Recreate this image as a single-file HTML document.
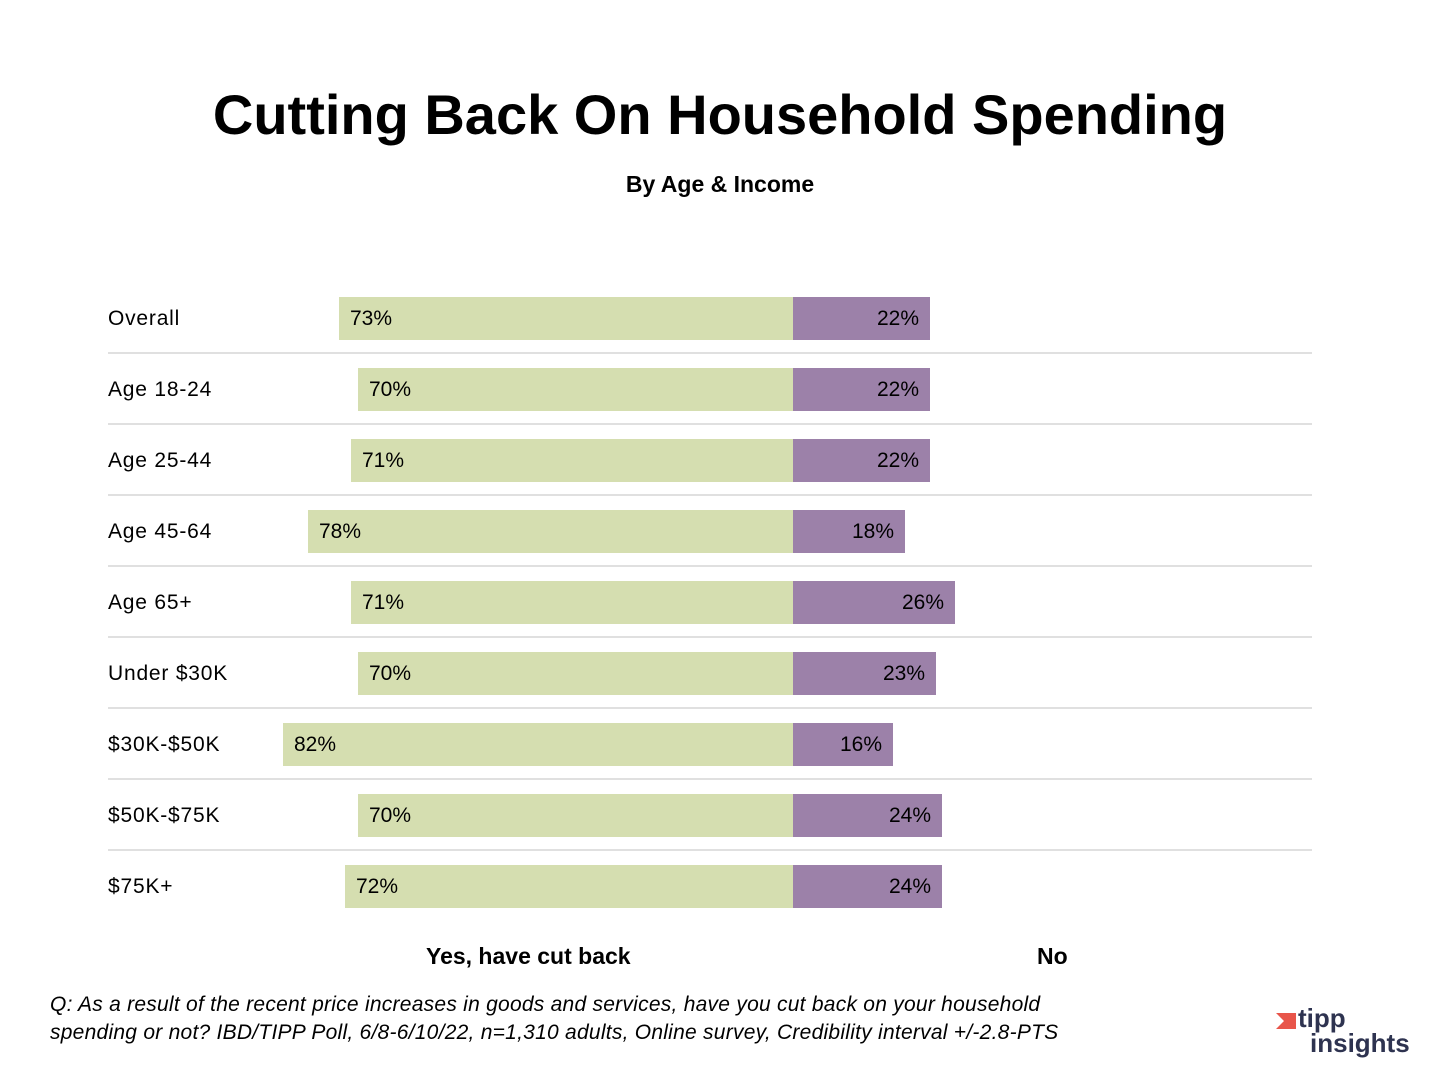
<!DOCTYPE html>
<html><head><meta charset="utf-8"><style>
body{margin:0;width:1440px;height:1080px;background:#fff;position:relative;font-family:"Liberation Sans","DejaVu Sans",sans-serif;color:#000;overflow:hidden}
.a{position:absolute;white-space:nowrap}
.y{position:absolute;height:43px;background:#d5deb0}
.n{position:absolute;height:43px;background:#9c81a9}
.lab{position:absolute;left:108px;font-size:21px;letter-spacing:0.8px;line-height:43px}
.v{font-size:21px;line-height:43px;position:absolute}
.sep{position:absolute;left:108px;width:1204px;height:2px;background:#e0e0e0}
</style></head><body>
<div class="a" style="left:0;width:1440px;text-align:center;top:82px;font-size:56px;font-weight:bold;letter-spacing:0px">Cutting Back On Household Spending</div>
<div class="a" style="left:0;width:1440px;text-align:center;top:171px;font-size:23px;font-weight:bold">By Age &amp; Income</div>
<div id="rows"></div>
<div class="a" style="left:426px;top:943px;font-size:23px;font-weight:bold">Yes, have cut back</div>
<div class="a" style="left:1037px;top:943px;font-size:23px;font-weight:bold">No</div>
<div class="a" style="left:50px;top:991px;font-size:21px;font-style:italic;line-height:28px;letter-spacing:0.25px">Q: As a result of the recent price increases in goods and services, have you cut back on your household<br>spending or not? IBD/TIPP Poll, 6/8-6/10/22, n=1,310 adults, Online survey, Credibility interval +/-2.8-PTS</div>
<div class="a" style="left:1276px;top:1013px;width:20px;height:16px;background:#e8554a;clip-path:polygon(0 0,100% 0,100% 100%,0 100%,40% 50%)"></div>
<div class="a" style="left:1298px;top:1005px;font-size:26px;font-weight:bold;color:#2e3350;line-height:26px">tipp</div>
<div class="a" style="left:1310px;top:1030px;font-size:26px;font-weight:bold;color:#2e3350;line-height:26px">insights</div>
<script>
var d=[["Overall",73,22],["Age 18-24",70,22],["Age 25-44",71,22],["Age 45-64",78,18],["Age 65+",71,26],["Under $30K",70,23],["$30K-$50K",82,16],["$50K-$75K",70,24],["$75K+",72,24]];
var h="",s=6.22,c=793;
d.forEach(function(r,i){var t=297+71*i,wy=Math.round(r[1]*s),wn=Math.round(r[2]*s);
h+='<div class="lab" style="top:'+t+'px">'+r[0]+'</div>';
h+='<div class="y" style="top:'+t+'px;left:'+(c-wy)+'px;width:'+wy+'px"></div>';
h+='<div class="n" style="top:'+t+'px;left:'+c+'px;width:'+wn+'px"></div>';
h+='<div class="v" style="top:'+t+'px;left:'+(c-wy+11)+'px">'+r[1]+'%</div>';
h+='<div class="v" style="top:'+t+'px;left:'+(c+wn-60)+'px;width:49px;text-align:right">'+r[2]+'%</div>';
if(i<8)h+='<div class="sep" style="top:'+(t+55)+'px"></div>';});
document.getElementById("rows").innerHTML=h;
</script>
</body></html>
